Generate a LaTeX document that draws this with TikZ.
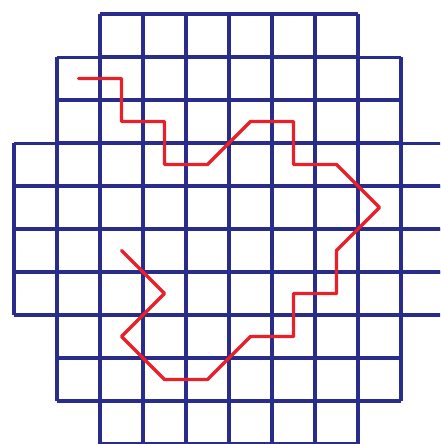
\documentclass[tikz,border=0pt]{standalone}
\usepackage{tikz}

\definecolor{gridblue}{RGB}{42,44,140}
\definecolor{walkred}{RGB}{232,32,42}

\begin{document}
\begin{tikzpicture}[
  line cap=round,
  line join=round,
  gridlines/.style={draw=gridblue, line width=2pt, line cap=butt},
  walk/.style={draw=walkred, line width=2.3pt}
]
  \def\m{0.3256}

  % Рамка рисунка
  \useasboundingbox (-\m,\m) rectangle (9.907,-10);
  \clip (-\m,\m) rectangle (9.907,-10);

  % Сетка: строка / первый столбец / последний столбец
  \foreach \r/\a/\b in {0/2/8, 1/1/9, 2/1/9, 3/0/10, 4/0/10,
                        5/0/10, 6/0/10, 7/1/9, 8/1/9, 9/2/8}
    \draw[gridlines] (\a,-\r) grid (\b,-\r-1);

  % Двойная линия
  \draw[gridlines, line width=2.8pt] (1,-2) -- (9,-2);

  % Ломаная
  \draw[walk]
    (1.5,-1.5) -- (2.5,-1.5) -- (2.5,-2.5) -- (3.5,-2.5)
    -- (3.5,-3.5) -- (4.5,-3.5) -- (5.5,-2.5) -- (6.5,-2.5)
    -- (6.5,-3.5) -- (7.5,-3.5) -- (8.5,-4.5) -- (7.5,-5.5)
    -- (7.5,-6.5) -- (6.5,-6.5) -- (6.5,-7.5) -- (5.5,-7.5)
    -- (4.5,-8.5) -- (3.5,-8.5) -- (2.5,-7.5) -- (3.5,-6.5)
    -- (2.5,-5.5);
\end{tikzpicture}
\end{document}
